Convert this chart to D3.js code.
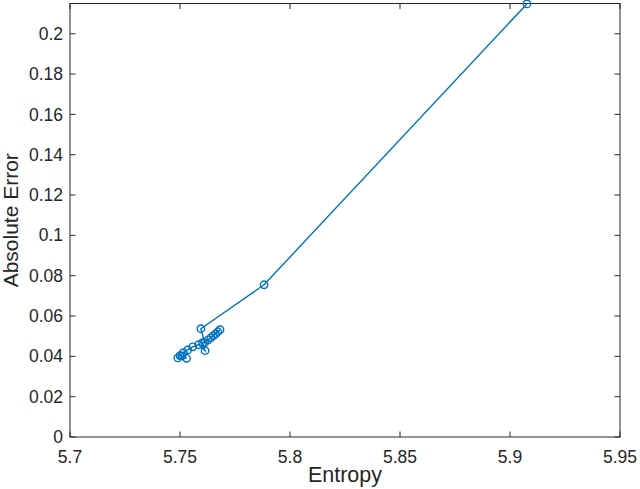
<!DOCTYPE html>
<html>
<head>
<meta charset="utf-8">
<script src="https://cdn.jsdelivr.net/npm/d3@7"></script>
<style>
  body { margin: 0; background: #fff; }
  svg { display: block; font-family: "Liberation Sans", Arial, sans-serif; }
</style>
</head>
<body>
<svg id="chart" width="640" height="489"></svg>
<script>
// entropy vs absolute error
const entropy = [5.9077, 5.7882, 5.7595, 5.7612, 5.7682, 5.7672, 5.7662, 5.7652, 5.7641,
  5.7628, 5.7603, 5.7614, 5.7585, 5.7558, 5.7535, 5.7515, 5.7500, 5.7490, 5.7530, 5.7508]
const absError = [0.2148, 0.0755, 0.0537, 0.0468, 0.0532, 0.0522, 0.0512, 0.0503, 0.0493,
  0.0482, 0.0468, 0.0428, 0.0458, 0.0447, 0.0432, 0.0418, 0.0404, 0.0392, 0.0390, 0.0402]
const xTicks = [5.7, 5.75, 5.8, 5.85, 5.9, 5.95]
const yTicks = [0, 0.02, 0.04, 0.06, 0.08, 0.1, 0.12, 0.14, 0.16, 0.18, 0.2]

const svg = d3.select('#chart')
const pLeft = 70, pRight = 620, pTop = 3.5, pBottom = 437
const axisColor = '#262626'
const lineColor = '#0072BD'

const x = d3.scaleLinear().domain([5.7, 5.95]).range([pLeft, pRight])
const y = d3.scaleLinear().domain([0, 0.215]).range([pBottom, pTop])

const data = entropy.map((e, i) => ({ e: e, a: absError[i] }))

// box
svg.append('rect')
  .attr('x', pLeft).attr('y', pTop)
  .attr('width', pRight - pLeft).attr('height', pBottom - pTop)
  .attr('fill', 'none').attr('stroke', axisColor).attr('stroke-width', 1)

const tickLen = 5.5
const fmt = d => String(+d.toFixed(2))

// bottom / top ticks
const xg = svg.append('g').attr('stroke', axisColor)
xTicks.forEach(t => {
  xg.append('line').attr('x1', x(t)).attr('x2', x(t)).attr('y1', pBottom).attr('y2', pBottom - tickLen)
  xg.append('line').attr('x1', x(t)).attr('x2', x(t)).attr('y1', pTop).attr('y2', pTop + tickLen)
})
svg.append('g')
  .attr('font-size', 17.5).attr('fill', axisColor).attr('text-anchor', 'middle')
  .selectAll('text').data(xTicks).join('text')
    .attr('x', d => x(d)).attr('y', pBottom + 26)
    .text(fmt)

// left / right ticks
const yg = svg.append('g').attr('stroke', axisColor)
yTicks.forEach(t => {
  yg.append('line').attr('y1', y(t)).attr('y2', y(t)).attr('x1', pLeft).attr('x2', pLeft + tickLen)
  yg.append('line').attr('y1', y(t)).attr('y2', y(t)).attr('x1', pRight).attr('x2', pRight - tickLen)
})
svg.append('g')
  .attr('font-size', 17.5).attr('fill', axisColor).attr('text-anchor', 'end')
  .selectAll('text').data(yTicks).join('text')
    .attr('x', pLeft - 7).attr('y', d => y(d)).attr('dy', '0.35em')
    .text(fmt)

// axis labels
svg.append('text')
  .attr('x', (pLeft + pRight) / 2).attr('y', 482)
  .attr('text-anchor', 'middle').attr('font-size', 21.5).attr('fill', axisColor)
  .text('Entropy')
svg.append('text')
  .attr('transform', `translate(18,${(pTop + pBottom) / 2}) rotate(-90)`)
  .attr('text-anchor', 'middle').attr('font-size', 21).attr('fill', axisColor)
  .text('Absolute Error')

// series
const line = d3.line().x(d => x(d.e)).y(d => y(d.a))
svg.append('path')
  .datum(data)
  .attr('d', line)
  .attr('fill', 'none').attr('stroke', lineColor).attr('stroke-width', 1.4)

svg.append('g')
  .selectAll('circle').data(data).join('circle')
    .attr('cx', d => x(d.e)).attr('cy', d => y(d.a)).attr('r', 3.7)
    .attr('fill', 'none').attr('stroke', lineColor).attr('stroke-width', 1.4)
</script>
</body>
</html>
